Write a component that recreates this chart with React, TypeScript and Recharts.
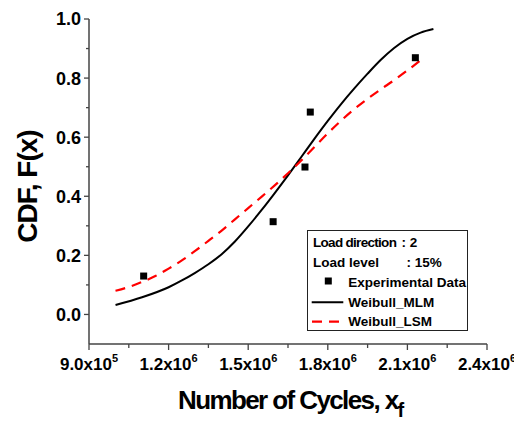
import React from "react";
import {
  ComposedChart,
  Line,
  Scatter,
  XAxis,
  YAxis,
  Legend,
} from "recharts";

// ---- data ----
const expCycles = [1106000, 1594000, 1714000, 1734000, 2130000];
const expCdf = [0.130, 0.314, 0.499, 0.685, 0.869];

const mlmCycles = [
  1000000, 1100000, 1200000, 1250000, 1300000, 1350000, 1400000, 1450000,
  1500000, 1550000, 1600000, 1650000, 1700000, 1750000, 1800000, 1850000,
  1900000, 1950000, 2000000, 2050000, 2100000, 2150000, 2198000,
];
const mlmCdf = [
  0.032, 0.058, 0.092, 0.115, 0.141, 0.170, 0.204, 0.247, 0.298, 0.353, 0.411,
  0.471, 0.533, 0.595, 0.655, 0.712, 0.765, 0.815, 0.862, 0.902, 0.933, 0.954,
  0.966,
];

const lsmCycles = [
  1000000, 1050000, 1100000, 1150000, 1200000, 1250000, 1300000, 1350000,
  1400000, 1450000, 1500000, 1550000, 1600000, 1650000, 1700000, 1750000,
  1800000, 1850000, 1900000, 1950000, 2000000, 2050000, 2100000, 2166000,
];
const lsmCdf = [
  0.080, 0.093, 0.110, 0.130, 0.155, 0.183, 0.215, 0.249, 0.284, 0.322, 0.360,
  0.398, 0.437, 0.478, 0.521, 0.567, 0.613, 0.656, 0.695, 0.730, 0.762, 0.793,
  0.826, 0.872,
];

const xTicks = [
  900000, 1050000, 1200000, 1350000, 1500000, 1650000, 1800000, 1950000,
  2100000, 2250000, 2400000,
];
const xMajor = [900000, 1200000, 1500000, 1800000, 2100000, 2400000];
const xMantissa = ["9.0", "1.2", "1.5", "1.8", "2.1", "2.4"];
const xExponent = ["5", "6", "6", "6", "6", "6"];
const topTicks = [1050000, 1200000, 1350000, 1500000, 1650000, 1800000, 1950000, 2100000, 2250000];

const yTicks = [0, 0.1, 0.2, 0.3, 0.4, 0.5, 0.6, 0.7, 0.8, 0.9, 1.0];
const yMajor = [0, 0.2, 0.4, 0.6, 0.8, 1.0];
const yLabels = ["0.0", "0.2", "0.4", "0.6", "0.8", "1.0"];
const rightTicks = [0, 0.1, 0.2, 0.3, 0.4, 0.5, 0.6, 0.7, 0.8, 0.9];

const expData = expCycles.map((x, i) => ({ x, y: expCdf[i] }));
const mlmData = mlmCycles.map((x, i) => ({ x, y: mlmCdf[i] }));
const lsmData = lsmCycles.map((x, i) => ({ x, y: lsmCdf[i] }));

const FONT = "'Liberation Sans', Arial, Helvetica, sans-serif";
const AXIS_COLOR = "#444";

const findIdx = (arr: number[], v: number) =>
  arr.findIndex((a) => Math.abs(a - v) < 1e-6);

const XTick = (props: any) => {
  const { x, y, payload } = props;
  const idx = findIdx(xMajor, payload.value);
  const major = idx >= 0;
  return (
    <g>
      <line x1={x} x2={x} y1={y} y2={y + (major ? 6 : 4)} stroke={AXIS_COLOR} strokeWidth={1.3} />
      {major && (
        <text
          x={x}
          y={y + 26}
          textAnchor="middle"
          fontFamily={FONT}
          fontWeight="bold"
          fontSize={17}
          fill="#000"
        >
          {xMantissa[idx] + "x10"}
          <tspan fontSize={11} dy={-8}>
            {xExponent[idx]}
          </tspan>
        </text>
      )}
    </g>
  );
};

const YTick = (props: any) => {
  const { x, y, payload } = props;
  const idx = findIdx(yMajor, payload.value);
  const major = idx >= 0;
  return (
    <g>
      <line x1={x - (major ? 5 : 3)} x2={x} y1={y} y2={y} stroke={AXIS_COLOR} strokeWidth={1.3} />
      {major && (
        <text
          x={x - 8}
          y={y}
          dy="0.36em"
          textAnchor="end"
          fontFamily={FONT}
          fontWeight="bold"
          fontSize={18}
          fill="#000"
        >
          {yLabels[idx]}
        </text>
      )}
    </g>
  );
};

const TopTick = (props: any) => {
  const { x, y } = props;
  return <line x1={x} x2={x} y1={y} y2={y + 3} stroke={AXIS_COLOR} strokeWidth={1.3} />;
};

const RightTick = (props: any) => {
  const { x, y } = props;
  return <line x1={x - 3} x2={x} y1={y} y2={y} stroke={AXIS_COLOR} strokeWidth={1.3} />;
};

const XTitle = (props: any) => {
  const vb = props.viewBox || { x: 81, y: 336, width: 398, height: 77 };
  return (
    <text
      x={vb.x + 89}
      y={vb.y + 64.5}
      fontFamily={FONT}
      fontWeight="bold"
      fontSize={26}
      letterSpacing={-1.6}
      fill="#000"
    >
      Number of Cycles, x
      <tspan fontSize={20} dy={8}>
        f
      </tspan>
    </text>
  );
};

const YTitle = (props: any) => {
  const vb = props.viewBox || { x: 0, y: 11, width: 81, height: 325 };
  const cx = vb.x + 28.5;
  const cy = vb.y + 167.5;
  return (
    <text
      x={cx}
      y={cy}
      transform={`rotate(-90, ${cx}, ${cy})`}
      textAnchor="middle"
      fontFamily={FONT}
      fontWeight="bold"
      fontSize={28}
      letterSpacing={-1}
      fill="#000"
    >
      CDF, F(x)
    </text>
  );
};

const Square = (props: any) => {
  const { cx, cy } = props;
  if (cx == null || cy == null) return null;
  return <rect x={cx - 3.5} y={cy - 3.5} width={7} height={7} fill="#000" />;
};

const LegendBox = () => {
  const t = { fontFamily: FONT, fontWeight: "bold" as const, fontSize: 13.5, fill: "#000" };
  return (
    <svg width={161} height={101} style={{ display: "block" }}>
      <rect x={0.5} y={0.5} width={160} height={100} fill="#fff" stroke="#222" strokeWidth={1} />
      <text x={6} y={17} {...t} letterSpacing={-0.7}>Load direction</text>
      <text x={94.5} y={17} {...t}>: 2</text>
      <text x={6} y={37} {...t}>Load level</text>
      <text x={99.5} y={37} {...t}>: 15%</text>
      <rect x={17.8} y={47.5} width={7} height={7} fill="#000" />
      <text x={41.3} y={56.7} {...t}>Experimental Data</text>
      <line x1={4.7} x2={36.3} y1={72.3} y2={72.3} stroke="#000" strokeWidth={2} />
      <text x={41.3} y={76.7} {...t}>Weibull_MLM</text>
      <line x1={5} x2={33} y1={91.7} y2={91.7} stroke="#ff0000" strokeWidth={2.2} strokeDasharray="10 7" />
      <text x={41.3} y={95.9} {...t}>Weibull_LSM</text>
    </svg>
  );
};

export default function App() {
  return (
    <ComposedChart
      width={514}
      height={413}
      margin={{ top: 11, right: 35, left: 0, bottom: 0 }}
      style={{ background: "#fff" }}
    >
      <XAxis
        xAxisId="bottom"
        dataKey="x"
        type="number"
        domain={[900000, 2400000]}
        ticks={xTicks}
        interval={0}
        height={77}
        tickSize={0}
        tickMargin={0}
        tickLine={false}
        axisLine={{ stroke: AXIS_COLOR, strokeWidth: 1.5 }}
        tick={<XTick />}
        allowDataOverflow
        label={(p: any) => <XTitle {...p} />}
      />
      <XAxis
        xAxisId="top"
        orientation="top"
        dataKey="x"
        type="number"
        domain={[900000, 2400000]}
        ticks={topTicks}
        interval={0}
        height={0}
        tickSize={0}
        tickMargin={0}
        tickLine={false}
        axisLine={{ stroke: AXIS_COLOR, strokeWidth: 1.5 }}
        tick={<TopTick />}
        allowDataOverflow
      />
      <YAxis
        yAxisId="left"
        dataKey="y"
        type="number"
        domain={[-0.1, 1.0]}
        ticks={yTicks}
        interval={0}
        width={81}
        tickSize={0}
        tickMargin={0}
        tickLine={false}
        axisLine={{ stroke: AXIS_COLOR, strokeWidth: 1.5 }}
        tick={<YTick />}
        allowDataOverflow
        label={(p: any) => <YTitle {...p} />}
      />
      <YAxis
        yAxisId="right"
        orientation="right"
        dataKey="y"
        type="number"
        domain={[-0.1, 1.0]}
        ticks={rightTicks}
        interval={0}
        width={0}
        tickSize={0}
        tickMargin={0}
        tickLine={false}
        axisLine={{ stroke: AXIS_COLOR, strokeWidth: 1.5 }}
        tick={<RightTick />}
        allowDataOverflow
      />
      <Line
        xAxisId="bottom"
        yAxisId="left"
        data={mlmData}
        dataKey="y"
        type="monotone"
        stroke="#000"
        strokeWidth={2}
        dot={false}
        activeDot={false}
        isAnimationActive={false}
      />
      <Line
        xAxisId="bottom"
        yAxisId="left"
        data={lsmData}
        dataKey="y"
        type="monotone"
        stroke="#ff0000"
        strokeWidth={2.2}
        strokeDasharray="10 7"
        dot={false}
        activeDot={false}
        isAnimationActive={false}
      />
      <Scatter
        xAxisId="bottom"
        yAxisId="left"
        data={expData}
        dataKey="y"
        shape={Square}
        isAnimationActive={false}
      />
      <Legend
        layout="vertical"
        align="center"
        verticalAlign="middle"
        wrapperStyle={{ position: "absolute", left: 299, top: 222, width: 161, height: 101 }}
        content={() => <LegendBox />}
      />
    </ComposedChart>
  );
}
